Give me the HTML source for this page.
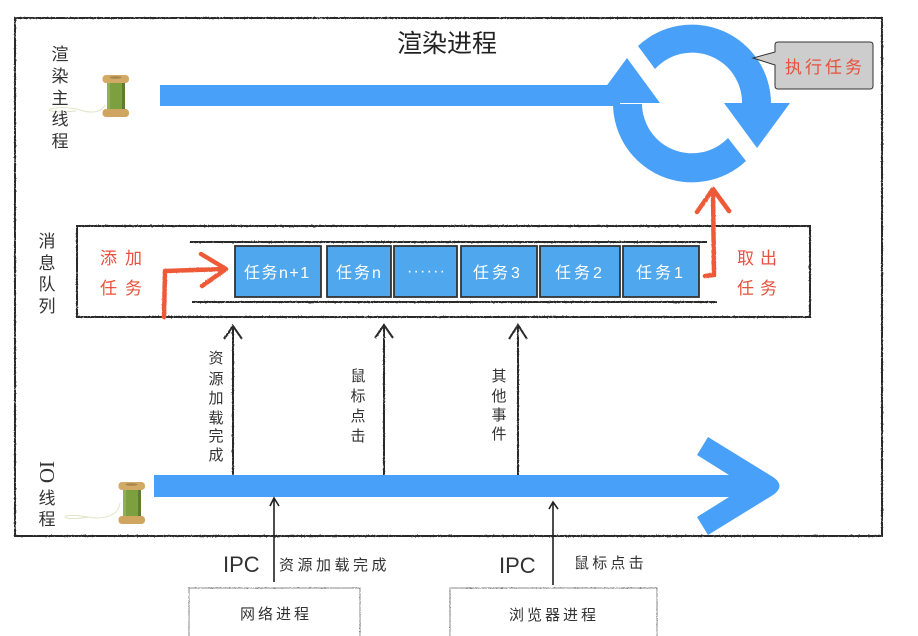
<!DOCTYPE html>
<html>
<head>
<meta charset="utf-8">
<style>
html,body{margin:0;padding:0;background:#fff;width:918px;height:636px;overflow:hidden}
svg{display:block}
text{font-family:"Liberation Sans","Noto Sans CJK SC",sans-serif;font-weight:400}
.k{fill:#333}
.r{fill:#e8513c}
.w{fill:#fff}
.m{text-anchor:middle}
</style>
</head>
<body>
<svg width="918" height="636" viewBox="0 0 918 636" xmlns="http://www.w3.org/2000/svg">
<defs>
<filter id="rough" x="-5%" y="-5%" width="110%" height="110%">
<feTurbulence type="fractalNoise" baseFrequency="0.7" numOctaves="2" seed="3"/>
<feDisplacementMap in="SourceGraphic" scale="1.4"/>
</filter>
<filter id="soft"><feGaussianBlur stdDeviation="0.25"/></filter>
<g id="spool">
<rect x="5" y="7" width="18" height="28" fill="#7b9f3f"/>
<rect x="5" y="7" width="3" height="28" fill="#90b058"/>
<rect x="20" y="7" width="3" height="28" fill="#5f7d2e"/>
<rect x="0.500" y="0" width="26.500" height="8" rx="3.500" fill="#d2aa66"/>
<ellipse cx="13.500" cy="2.500" rx="6" ry="1.200" fill="#a58450"/>
<rect x="0.500" y="34" width="26.500" height="8" rx="3.500" fill="#cfa561"/>
</g>
</defs>

<g filter="url(#soft)">
<!-- blue shapes -->
<g fill="#49a0f9">
<rect x="160" y="85" width="460" height="21"/>
<path d="M638 46 A79 79 0 0 1 771 104 L742 104 A50 50 0 0 0 655 69 Z"/>
<path d="M724 103 L790 103 L757 148 Z"/>
<path d="M613 104 A79 79 0 0 0 746 161 L728 138 A50 50 0 0 1 642 104 Z"/>
<path d="M594 103 L627 58 L660 103 Z"/>
<rect x="154" y="475" width="590" height="22"/>
<path d="M708 437 L697 455 L729 475 L729 497 L697 517 L708 535 L773 495 Q786 486 773 477 Z"/>
</g>

<!-- frames -->
<g fill="none" stroke="#2a2a2a" filter="url(#rough)">
<rect x="15" y="18" width="867" height="518" stroke-width="2"/>
<rect x="77" y="226" width="733" height="91" stroke-width="2"/>
<path d="M190 242 H707 M192 302 H717" stroke-width="2"/>
<path d="M233 475 V327 M224 339 L233 326 L242 339 M384 475 V326 M375 338 L384 325 L393 338 M518 475 V326 M509 339 L518 325 L527 339" stroke-width="2"/>
</g>
<g fill="none" stroke="#888" stroke-width="1" filter="url(#rough)">
<rect x="189" y="588" width="171" height="50"/>
<rect x="450" y="588" width="207" height="50"/>
</g>

<!-- lower arrows -->
<g fill="none" stroke="#222" stroke-width="1.600">
<path d="M274 582 V499 M270 506 L274 498 L279 506"/>
<path d="M553 585 V503 M549 509 L553 502 L558 509"/>
</g>

<!-- task boxes -->
<g fill="#4fa8ee" stroke="#333" stroke-width="1.800">
<rect x="235" y="246" width="86" height="51"/>
<rect x="327" y="246" width="64" height="51"/>
<rect x="394" y="246" width="63" height="51"/>
<rect x="461" y="246" width="76" height="51"/>
<rect x="540" y="246" width="80" height="51"/>
<rect x="623" y="246" width="76" height="51"/>
</g>
<g font-size="16" class="w">
<text class="w" x="244" y="278" letter-spacing="1.500">任务n+1</text>
<text class="w" x="336" y="278" letter-spacing="2">任务n</text>
<text class="w" x="407" y="276" letter-spacing="1.200">······</text>
<text class="w" x="473" y="278" letter-spacing="3">任务3</text>
<text class="w" x="555" y="278" letter-spacing="3">任务2</text>
<text class="w" x="636" y="278" letter-spacing="3">任务1</text>
</g>

<!-- red arrows -->
<g fill="none" stroke="#ee5a38" stroke-width="4.500" stroke-linejoin="round" stroke-linecap="round" filter="url(#rough)">
<path d="M164 317 L165 271 L225 269 M201 254 L226 269 L202 286"/>
<path d="M705 276 L714 275 L713 190 M697 212 L713 189 L729 211"/>
</g>

<!-- bubble -->
<path d="M775 45 Q775 42 778 42 H870 Q873 42 873 45 V86 Q873 89 870 89 H778 Q775 89 775 86 V65 L753 58 L775 52 Z" fill="#cdcdcd" stroke="#333" stroke-width="1"/>
<text class="r" x="785" y="73" font-size="17" letter-spacing="3">执行任务</text>

<!-- spools -->
<path d="M105 105 C102 112 92 114 80 110 C70 107 58 107 50 109 C46 111 56 113 76 111" fill="none" stroke="#dfe5c8" stroke-width="1"/>
<path d="M120 503 C119 512 112 518 95 518 C85 517 75 514 66 516 C62 518 70 520 90 517" fill="none" stroke="#dfe5c8" stroke-width="1"/>
<use href="#spool" x="102" y="75"/>
<use href="#spool" x="118" y="482"/>

<!-- labels -->
<text class="m" x="447" y="52" font-size="25" fill="#222">渲染进程</text>

<g class="k" font-size="17">
<text class="k m" x="60" y="60">渲</text>
<text class="k m" x="60" y="82">染</text>
<text class="k m" x="60" y="104">主</text>
<text class="k m" x="60" y="125">线</text>
<text class="k m" x="60" y="147">程</text>

<text class="k m" x="47" y="247">消</text>
<text class="k m" x="47" y="269">息</text>
<text class="k m" x="47" y="290">队</text>
<text class="k m" x="47" y="312">列</text>

<text class="k" transform="translate(40,461) rotate(90)" style="font-family:'Liberation Serif',serif" font-size="21">IO</text>
<text class="k m" x="47" y="504">线</text>
<text class="k m" x="47" y="525">程</text>
</g>

<g class="k" font-size="15">
<text class="k m" x="216" y="363">资</text>
<text class="k m" x="216" y="384">源</text>
<text class="k m" x="216" y="403">加</text>
<text class="k m" x="216" y="423">载</text>
<text class="k m" x="216" y="441">完</text>
<text class="k m" x="216" y="460">成</text>

<text class="k m" x="358" y="381">鼠</text>
<text class="k m" x="358" y="401">标</text>
<text class="k m" x="358" y="421">点</text>
<text class="k m" x="358" y="441">击</text>

<text class="k m" x="499" y="381">其</text>
<text class="k m" x="499" y="401">他</text>
<text class="k m" x="499" y="420">事</text>
<text class="k m" x="499" y="439">件</text>
</g>

<g class="r" font-size="17">
<text class="r" x="100" y="264" letter-spacing="8">添加</text>
<text class="r" x="100" y="294" letter-spacing="8">任务</text>
<text class="r" x="737" y="264" letter-spacing="6">取出</text>
<text class="r" x="737" y="294" letter-spacing="6">任务</text>
</g>

<text x="223" y="572" font-size="22" fill="#333">IPC</text>
<text x="499" y="573" font-size="22" fill="#333">IPC</text>
<text x="279" y="570" font-size="15" letter-spacing="3.500" fill="#333">资源加载完成</text>
<text x="574" y="568" font-size="15" letter-spacing="3.200" fill="#333">鼠标点击</text>
<text x="240" y="619" font-size="15" letter-spacing="3" fill="#333">网络进程</text>
<text x="509" y="620" font-size="15" letter-spacing="3" fill="#333">浏览器进程</text>
</g>
</svg>
</body>
</html>
